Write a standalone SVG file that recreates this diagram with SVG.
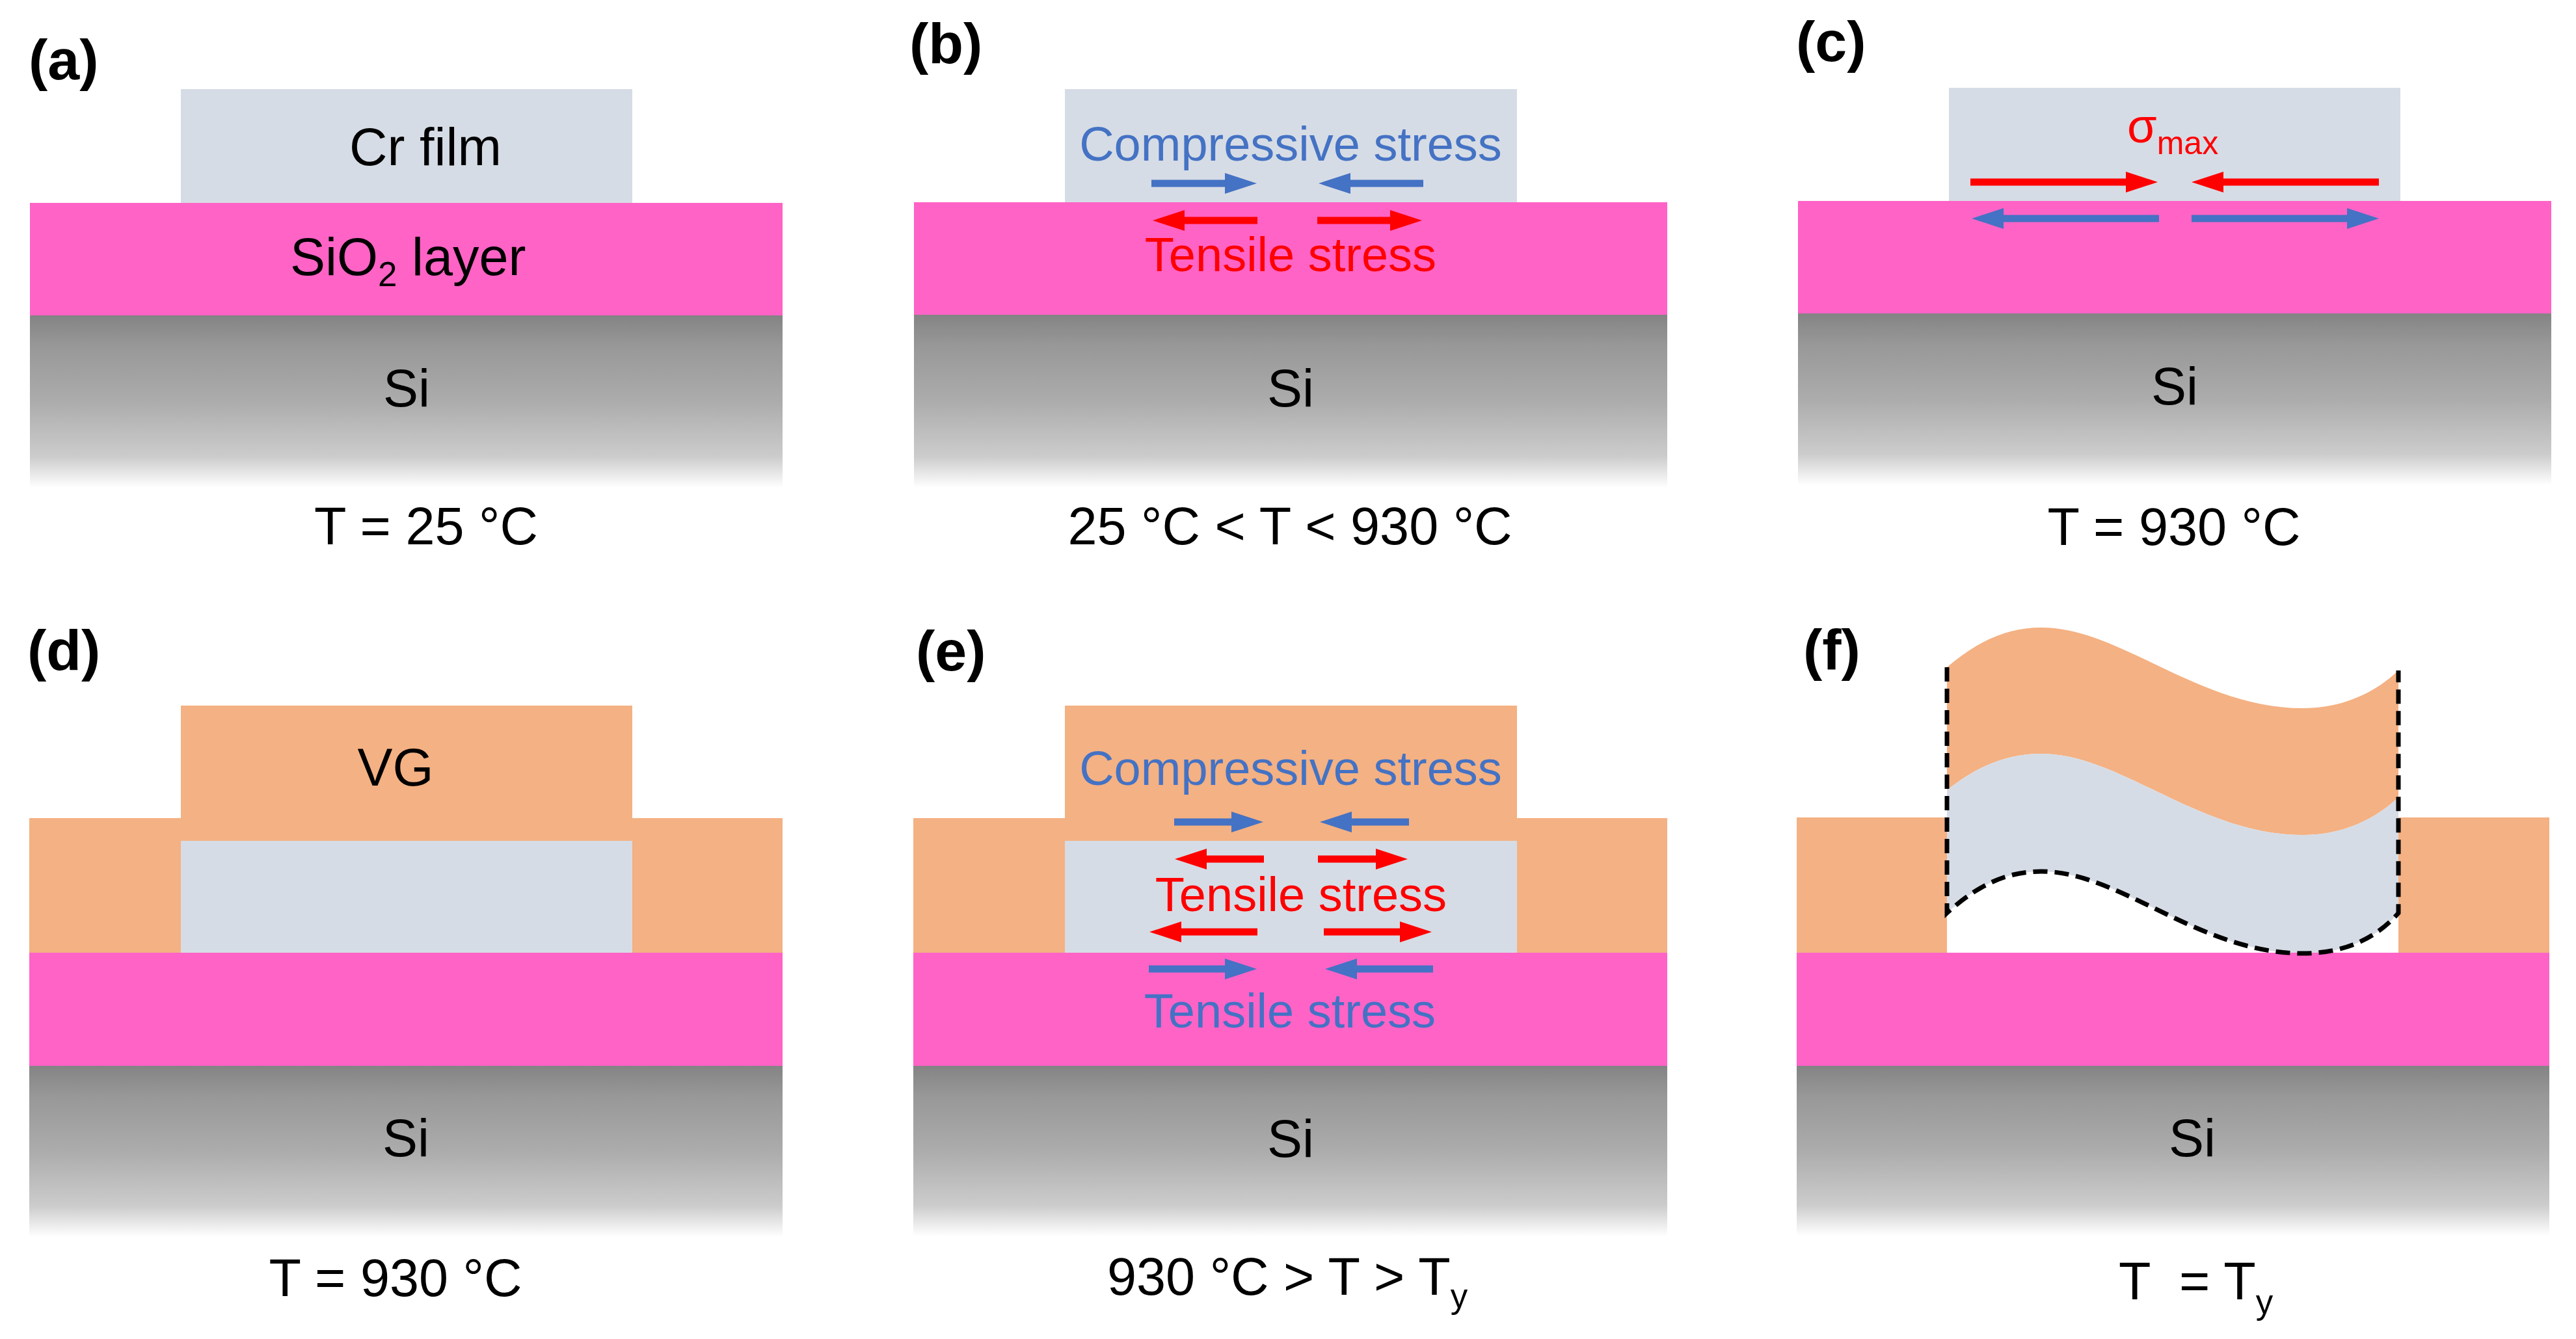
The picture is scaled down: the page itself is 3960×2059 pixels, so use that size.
<svg xmlns="http://www.w3.org/2000/svg" width="3960" height="2059" viewBox="0 0 3960 2059">
<style>
text{font-family:"Liberation Sans",Arial,sans-serif;font-size:81px;fill:#000;white-space:pre}
.lab{font-weight:bold;font-size:88px}
.m{text-anchor:middle}
.st{font-size:74px}
.b{fill:#4472C4}
.r{fill:#FF0000}
.cr{fill:#D6DCE5}
.sio{fill:#FF63C6}
.si{fill:url(#siGrad)}
.vg{fill:#F4B183}
.ab{stroke:#4472C4;stroke-width:11;fill:none;marker-end:url(#hb)}
.ar{stroke:#FF0000;stroke-width:11;fill:none;marker-end:url(#hr)}
.dash{fill:none;stroke:#000;stroke-width:7;stroke-dasharray:22 11}
</style>
<defs>
<linearGradient id="siGrad" x1="0" y1="0" x2="0" y2="1">
<stop offset="0" stop-color="#848484"/>
<stop offset="0.18" stop-color="#989898"/>
<stop offset="0.5" stop-color="#acacac"/>
<stop offset="0.82" stop-color="#cccccc"/>
<stop offset="1" stop-color="#ffffff"/>
</linearGradient>
<marker id="hb" markerUnits="userSpaceOnUse" markerWidth="50" markerHeight="32" refX="1" refY="16" orient="auto"><path d="M0 0L49 16L0 32Z" fill="#4472C4"/></marker>
<marker id="hr" markerUnits="userSpaceOnUse" markerWidth="50" markerHeight="32" refX="1" refY="16" orient="auto"><path d="M0 0L49 16L0 32Z" fill="#FF0000"/></marker>
</defs>
<rect width="3960" height="2059" fill="#fff"/>

<g id="panel-a">
<rect class="cr" x="278" y="137" width="694" height="175"/>
<rect class="sio" x="46" y="312" width="1157" height="173"/>
<rect class="si" x="46" y="485" width="1157" height="265"/>
<text class="lab" x="44" y="122">(a)</text>
<text x="537" y="254">Cr film</text>
<text x="446" y="423">SiO<tspan font-size="53" dy="17">2</tspan><tspan dy="-17"> layer</tspan></text>
<text class="m" x="625" y="625">Si</text>
<text class="m" x="655" y="837">T = 25 °C</text>
</g>

<g id="panel-b">
<rect class="cr" x="1637" y="137" width="695" height="174"/>
<rect class="sio" x="1405" y="311" width="1158" height="173"/>
<rect class="si" x="1405" y="484" width="1158" height="266"/>
<text class="lab" x="1398" y="97">(b)</text>
<text class="st b m" x="1984" y="247">Compressive stress</text>
<text class="st r m" x="1984" y="417">Tensile stress</text>
<text class="m" x="1984" y="625">Si</text>
<text class="m" x="1983" y="837">25 °C &lt; T &lt; 930 °C</text>
</g>

<g id="panel-c">
<rect class="cr" x="2996" y="135" width="694" height="174"/>
<rect class="sio" x="2764" y="309" width="1158" height="173"/>
<rect class="si" x="2764" y="482" width="1158" height="264"/>
<text class="lab" x="2761" y="94">(c)</text>
<text class="st r" x="3270" y="219">σ<tspan font-size="50" dy="18">max</tspan></text>
<text class="m" x="3343" y="622">Si</text>
<text class="m" x="3342" y="838">T = 930 °C</text>
</g>

<g id="panel-d">
<path class="vg" d="M278 1085H972V1258H1203V1465H45V1258H278Z"/>
<rect class="cr" x="278" y="1293" width="694" height="172"/>
<rect class="sio" x="45" y="1465" width="1158" height="174"/>
<rect class="si" x="45" y="1639" width="1158" height="263"/>
<text class="lab" x="42" y="1030">(d)</text>
<text class="m" x="608" y="1208">VG</text>
<text class="m" x="624" y="1778">Si</text>
<text class="m" x="608" y="1993">T = 930 °C</text>
</g>

<g id="panel-e">
<path class="vg" d="M1637 1085H2332V1258H2563V1465H1404V1258H1637Z"/>
<rect class="cr" x="1637" y="1293" width="695" height="172"/>
<rect class="sio" x="1404" y="1465" width="1159" height="174"/>
<rect class="si" x="1404" y="1639" width="1159" height="262"/>
<text class="lab" x="1408" y="1031">(e)</text>
<text class="st b m" x="1984" y="1207">Compressive stress</text>
<text class="st r m" x="2000" y="1401">Tensile stress</text>
<text class="st b m" x="1983" y="1580">Tensile stress</text>
<text class="m" x="1984" y="1779">Si</text>
<text x="1702" y="1991">930 °C &gt; T &gt; T<tspan font-size="53" dy="20">y</tspan></text>
</g>

<g id="panel-f">
<rect class="vg" x="2762" y="1257" width="231" height="208"/>
<rect class="vg" x="3687" y="1257" width="232" height="208"/>
<path class="vg" d="M2993 1026C3040 986 3085 965 3138 965C3260 965 3380 1089 3540 1089C3600 1089 3650 1066 3687 1031V1226C3650 1261 3600 1284 3540 1284C3380 1284 3260 1159 3138 1159C3085 1159 3040 1178 2993 1215Z"/>
<path class="cr" d="M2993 1215C3040 1178 3085 1159 3138 1159C3260 1159 3380 1284 3540 1284C3600 1284 3650 1261 3687 1226V1404C3650 1446 3600 1466 3540 1466C3380 1466 3260 1340 3138 1340C3085 1340 3040 1361 2993 1404Z"/>
<rect class="sio" x="2762" y="1465" width="1157" height="174"/>
<rect class="si" x="2762" y="1639" width="1157" height="261"/>
<path class="dash" d="M2993 1026V1404C3040 1361 3085 1340 3138 1340C3260 1340 3380 1466 3540 1466C3600 1466 3650 1446 3687 1404V1031"/>
<text class="lab" x="2772" y="1029">(f)</text>
<text class="m" x="3370" y="1778">Si</text>
<text x="3257" y="1998">T  = T<tspan font-size="53" dy="22">y</tspan></text>
</g>

<g id="connectors">
<line class="ab" x1="1770" y1="282" x2="1884" y2="282"/>
<line class="ab" x1="2188" y1="282" x2="2075" y2="282"/>
<line class="ar" x1="1933" y1="339" x2="1820" y2="339"/>
<line class="ar" x1="2025" y1="339" x2="2138" y2="339"/>
<line class="ar" x1="3029" y1="280" x2="3269" y2="280"/>
<line class="ar" x1="3657" y1="280" x2="3417" y2="280"/>
<line class="ab" x1="3319" y1="336" x2="3079" y2="336"/>
<line class="ab" x1="3369" y1="336" x2="3609" y2="336"/>
<line class="ab" x1="1805" y1="1264" x2="1894" y2="1264"/>
<line class="ab" x1="2166" y1="1264" x2="2077" y2="1264"/>
<line class="ar" x1="1943" y1="1321" x2="1854" y2="1321"/>
<line class="ar" x1="2026" y1="1321" x2="2116" y2="1321"/>
<line class="ar" x1="1933" y1="1433" x2="1815" y2="1433"/>
<line class="ar" x1="2035" y1="1433" x2="2153" y2="1433"/>
<line class="ab" x1="1766" y1="1490" x2="1884" y2="1490"/>
<line class="ab" x1="2203" y1="1490" x2="2085" y2="1490"/>
</g>
</svg>
